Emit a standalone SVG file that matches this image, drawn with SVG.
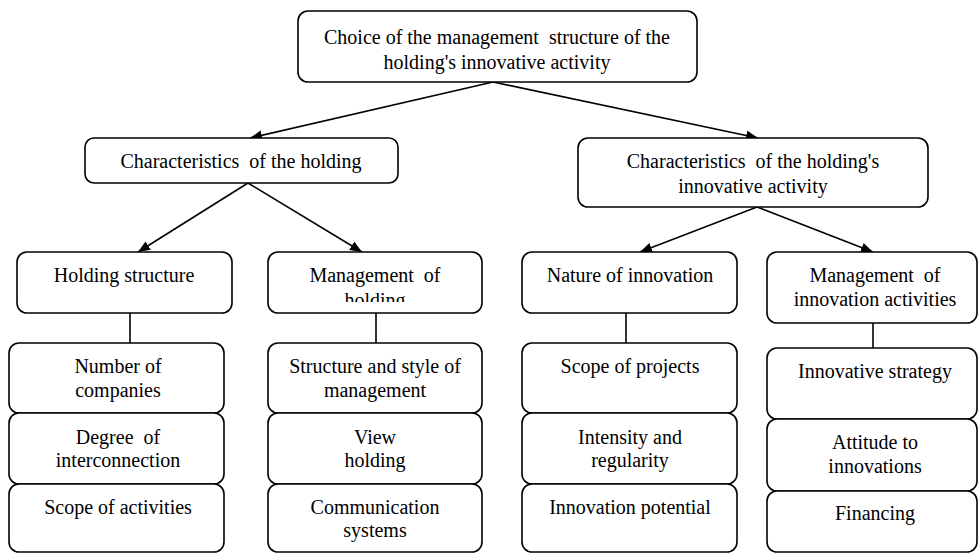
<svg xmlns="http://www.w3.org/2000/svg" width="978" height="553" viewBox="0 0 978 553">
<style>
.box{fill:#fff;stroke:#000;stroke-width:1.6}
.t{font-family:'Liberation Serif',serif;font-size:20px;fill:#000;text-anchor:middle;white-space:pre}
.c{stroke:#000;stroke-width:1.6;fill:none}
</style>
<defs>
<marker id="ah" viewBox="0 0 12 10" refX="12" refY="5" markerWidth="12" markerHeight="10" markerUnits="userSpaceOnUse" orient="auto">
<path d="M0,0 L12,5 L0,10 z" fill="#000"/>
</marker>
<clipPath id="clipMH"><rect x="268" y="252" width="214" height="50"/></clipPath>
</defs>
<rect width="978" height="553" fill="#fff"/>
<g id="connectors">
<line class="c" x1="493" y1="82" x2="250" y2="138" marker-end="url(#ah)"/>
<line class="c" x1="493" y1="82" x2="758" y2="138" marker-end="url(#ah)"/>
<line class="c" x1="248" y1="183" x2="138" y2="252" marker-end="url(#ah)"/>
<line class="c" x1="248" y1="183" x2="362" y2="252" marker-end="url(#ah)"/>
<line class="c" x1="757" y1="207" x2="640" y2="252" marker-end="url(#ah)"/>
<line class="c" x1="757" y1="207" x2="873" y2="252" marker-end="url(#ah)"/>
<line class="c" x1="130" y1="313" x2="130" y2="343"/>
<line class="c" x1="376" y1="313" x2="376" y2="343"/>
<line class="c" x1="626" y1="313" x2="626" y2="343"/>
<line class="c" x1="873" y1="323" x2="873" y2="348"/>
</g>
<g id="root">
<rect class="box" x="298" y="11" width="399" height="71" rx="10"/>
<text class="t" x="497" y="44" xml:space="preserve">Choice of the management  structure of the</text>
<text class="t" x="497" y="69">holding's innovative activity</text>
</g>
<g id="char-holding">
<rect class="box" x="85" y="138" width="313" height="45" rx="9"/>
<text class="t" x="241" y="168" xml:space="preserve">Characteristics  of the holding</text>
</g>
<g id="char-innov">
<rect class="box" x="578" y="138" width="350" height="69" rx="10"/>
<text class="t" x="753" y="168" xml:space="preserve">Characteristics  of the holding's</text>
<text class="t" x="753" y="193">innovative activity</text>
</g>
<g id="holding-structure">
<rect class="box" x="17" y="252" width="215" height="61" rx="10"/>
<text class="t" x="124" y="282">Holding structure</text>
</g>
<g id="mgmt-holding">
<rect class="box" x="268" y="252" width="214" height="61" rx="10"/>
<text class="t" x="375" y="282" xml:space="preserve">Management  of</text>
<text class="t" x="375" y="307" clip-path="url(#clipMH)">holding</text>
</g>
<g id="nature-innov">
<rect class="box" x="522" y="252" width="215" height="61" rx="10"/>
<text class="t" x="630" y="282">Nature of innovation</text>
</g>
<g id="mgmt-innov">
<rect class="box" x="767" y="252" width="210" height="71" rx="10"/>
<text class="t" x="875" y="282" xml:space="preserve">Management  of</text>
<text class="t" x="875" y="306">innovation activities</text>
</g>
<g id="num-companies">
<rect class="box" x="9" y="343" width="215" height="70" rx="10"/>
<text class="t" x="118" y="373">Number of</text>
<text class="t" x="118" y="397">companies</text>
</g>
<g id="degree">
<rect class="box" x="9" y="413" width="215" height="71" rx="10"/>
<text class="t" x="118" y="444" xml:space="preserve">Degree  of</text>
<text class="t" x="118" y="467">interconnection</text>
</g>
<g id="scope-activities">
<rect class="box" x="9" y="484" width="215" height="68" rx="10"/>
<text class="t" x="118" y="514">Scope of activities</text>
</g>
<g id="structure-style">
<rect class="box" x="268" y="343" width="214" height="70" rx="10"/>
<text class="t" x="375" y="373">Structure and style of</text>
<text class="t" x="375" y="397">management</text>
</g>
<g id="view-holding">
<rect class="box" x="268" y="413" width="214" height="71" rx="10"/>
<text class="t" x="375" y="444">View</text>
<text class="t" x="375" y="467">holding</text>
</g>
<g id="communication">
<rect class="box" x="268" y="484" width="214" height="68" rx="10"/>
<text class="t" x="375" y="514">Communication</text>
<text class="t" x="375" y="537">systems</text>
</g>
<g id="scope-projects">
<rect class="box" x="522" y="343" width="215" height="70" rx="10"/>
<text class="t" x="630" y="373">Scope of projects</text>
</g>
<g id="intensity">
<rect class="box" x="522" y="413" width="215" height="71" rx="10"/>
<text class="t" x="630" y="444">Intensity and</text>
<text class="t" x="630" y="467">regularity</text>
</g>
<g id="innov-potential">
<rect class="box" x="522" y="484" width="215" height="68" rx="10"/>
<text class="t" x="630" y="514">Innovation potential</text>
</g>
<g id="innov-strategy">
<rect class="box" x="767" y="348" width="210" height="71" rx="10"/>
<text class="t" x="875" y="378">Innovative strategy</text>
</g>
<g id="attitude">
<rect class="box" x="767" y="419" width="210" height="72" rx="10"/>
<text class="t" x="875" y="449">Attitude to</text>
<text class="t" x="875" y="473">innovations</text>
</g>
<g id="financing">
<rect class="box" x="767" y="491" width="210" height="61" rx="10"/>
<text class="t" x="875" y="520">Financing</text>
</g>
</svg>
